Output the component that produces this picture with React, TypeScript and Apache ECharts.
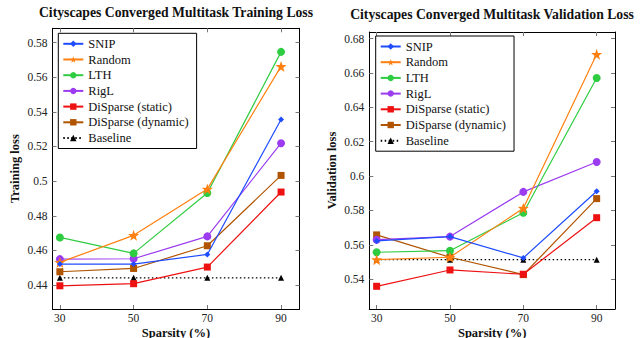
import React, { useEffect, useRef } from "react";
import * as echarts from "echarts";

const sparsity = [30, 50, 70, 90];
const seriesNames = ["SNIP", "Random", "LTH", "RigL", "DiSparse (static)", "DiSparse (dynamic)", "Baseline"];

const trainSNIP = [0.4521, 0.4521, 0.4577, 0.5356];
const trainRandom = [0.4531, 0.4687, 0.4954, 0.5662];
const trainLTH = [0.4675, 0.4583, 0.4931, 0.5746];
const trainRigL = [0.455, 0.4552, 0.4681, 0.5219];
const trainStatic = [0.4396, 0.4408, 0.4504, 0.4937];
const trainDynamic = [0.4477, 0.4496, 0.4627, 0.5033];
const trainBaseline = [0.4442, 0.4442, 0.4442, 0.4442];

const valSNIP = [0.5623, 0.5648, 0.5524, 0.5912];
const valRandom = [0.5514, 0.5528, 0.5813, 0.6708];
const valLTH = [0.5557, 0.5566, 0.5787, 0.657];
const valRigL = [0.563, 0.5648, 0.5908, 0.6082];
const valStatic = [0.5359, 0.5454, 0.5429, 0.5758];
const valDynamic = [0.5658, 0.5528, 0.5427, 0.5869];
const valBaseline = [0.5514, 0.5514, 0.5514, 0.5514];

const trainTicks = [0.44, 0.46, 0.48, 0.5, 0.52, 0.54, 0.56, 0.58];
const valTicks = [0.54, 0.56, 0.58, 0.6, 0.62, 0.64, 0.66, 0.68];

const titles = ["Cityscapes Converged Multitask Training Loss", "Cityscapes Converged Multitask Validation Loss"];
const yNames = ["Training loss", "Validation loss"];
const xName = "Sparsity (%)";

const colors = ["#1f4cff", "#ff8010", "#2ecc40", "#9b3cf0", "#ee1111", "#b05400", "#000000"];
const STAR = "path://M0,-10 L2.35,-3.24 9.51,-3.09 3.8,1.24 5.88,8.09 0,4 -5.88,8.09 -3.8,1.24 -9.51,-3.09 -2.35,-3.24Z";
const symbols = ["diamond", STAR, "circle", "circle", "rect", "rect", "triangle"];
const symbolSizes = [6, 11, 8, 8, 7, 7, 6];

const SERIF = "'Liberation Serif', serif";

function fmt(v: number) {
  return String(Number(v.toFixed(2)));
}

export default function App() {
  const ref = useRef<HTMLDivElement>(null);
  useEffect(() => {
    document.body.style.margin = "0";
    if (!ref.current) return;
    const chart = echarts.init(ref.current, null, { renderer: "svg" });
    const trainData = [trainSNIP, trainRandom, trainLTH, trainRigL, trainStatic, trainDynamic, trainBaseline];
    const valData = [valSNIP, valRandom, valLTH, valRigL, valStatic, valDynamic, valBaseline];
    const grids = [
      { left: 52.5, right: 340.5, top: 28.3, bottom: 29, outerBoundsMode: "none", containLabel: false },
      { left: 369.3, right: 25, top: 32, bottom: 29, outerBoundsMode: "none", containLabel: false },
    ];
    const yRanges = [
      [0.4262, 0.5882],
      [0.5227, 0.6838],
    ];
    const yTicks = [trainTicks, valTicks];
    const axisLine = { show: true, lineStyle: { color: "#000", width: 1 } };
    const tickStyle = { color: "#777", width: 1 };
    const xAxis: any[] = [];
    const yAxis: any[] = [];
    [0, 1].forEach((g) => {
      xAxis.push({
        type: "value",
        gridIndex: g,
        min: 28,
        max: 95,
        position: "bottom",
        name: xName,
        nameLocation: "middle",
        nameGap: 17,
        nameMoveOverlap: false,
        nameTextStyle: { fontFamily: SERIF, fontWeight: "bold", fontSize: 12.5, color: "#111", verticalAlign: "top", lineHeight: 13 },
        axisLine,
        axisTick: { show: true, inside: true, length: 4, lineStyle: tickStyle, customValues: sparsity },
        axisLabel: { fontFamily: SERIF, fontSize: 11.5, color: "#222", margin: 3, customValues: sparsity, formatter: (v: number) => String(v) },
        splitLine: { show: false },
      });
      xAxis.push({
        type: "value",
        gridIndex: g,
        min: 28,
        max: 95,
        position: "top",
        axisLine,
        axisTick: { show: true, inside: true, length: 4, lineStyle: tickStyle, customValues: sparsity },
        axisLabel: { show: false },
        splitLine: { show: false },
      });
      yAxis.push({
        type: "value",
        gridIndex: g,
        min: yRanges[g][0],
        max: yRanges[g][1],
        position: "left",
        name: yNames[g],
        nameLocation: "middle",
        nameGap: 31,
        nameMoveOverlap: false,
        nameTextStyle: { fontFamily: SERIF, fontWeight: "bold", fontSize: 12.5, color: "#111" },
        axisLine,
        axisTick: { show: true, inside: true, length: 4, lineStyle: tickStyle, customValues: yTicks[g] },
        axisLabel: { fontFamily: SERIF, fontSize: 11.5, color: "#222", margin: 5, customValues: yTicks[g], formatter: (v: number) => fmt(v) },
        splitLine: { show: false },
      });
      yAxis.push({
        type: "value",
        gridIndex: g,
        min: yRanges[g][0],
        max: yRanges[g][1],
        position: "right",
        axisLine,
        axisTick: { show: true, inside: true, length: 4, lineStyle: tickStyle, customValues: yTicks[g] },
        axisLabel: { show: false },
        splitLine: { show: false },
      });
    });
    const series: any[] = [];
    [trainData, valData].forEach((dataSet, g) => {
      dataSet.forEach((vals, i) => {
        series.push({
          type: "line",
          name: seriesNames[i],
          xAxisIndex: g * 2,
          yAxisIndex: g * 2,
          data: sparsity.map((x, k) => [x, vals[k]]),
          symbol: symbols[i],
          symbolSize: symbolSizes[i],
          showSymbol: true,
          color: colors[i],
          itemStyle: { color: colors[i] },
          lineStyle: { color: colors[i], width: 1.2, type: i === 6 ? [1.5, 2.5] : "solid" },
          z: 10 - i,
        });
      });
    });
    const legendBase = {
      orient: "vertical",
      borderColor: "#000",
      borderWidth: 1,
      padding: [4, 8, 4, 4],
      itemWidth: 20,
      itemHeight: 8,
      itemGap: 2.7,
      textStyle: { fontFamily: SERIF, fontSize: 12.5, color: "#111", lineHeight: 12 },
      data: seriesNames,
      selectedMode: false,
    };
    chart.setOption({
      animation: false,
      backgroundColor: "#fff",
      grid: grids,
      xAxis,
      yAxis,
      series,
      legend: [
        { ...legendBase, left: 58.3, top: 33.3 },
        { ...legendBase, left: 375.7, top: 36 },
      ],
      graphic: [
        { type: "text", x: 176, y: 12, style: { text: titles[0], textAlign: "center", textVerticalAlign: "middle", fontFamily: SERIF, fontWeight: "bold", fontSize: 13.7, fill: "#111" } },
        { type: "text", x: 492, y: 14.5, style: { text: titles[1], textAlign: "center", textVerticalAlign: "middle", fontFamily: SERIF, fontWeight: "bold", fontSize: 13.7, fill: "#111" } },
      ],
    });
    return () => chart.dispose();
  }, []);
  return <div ref={ref} style={{ width: 640, height: 338 }} />;
}
